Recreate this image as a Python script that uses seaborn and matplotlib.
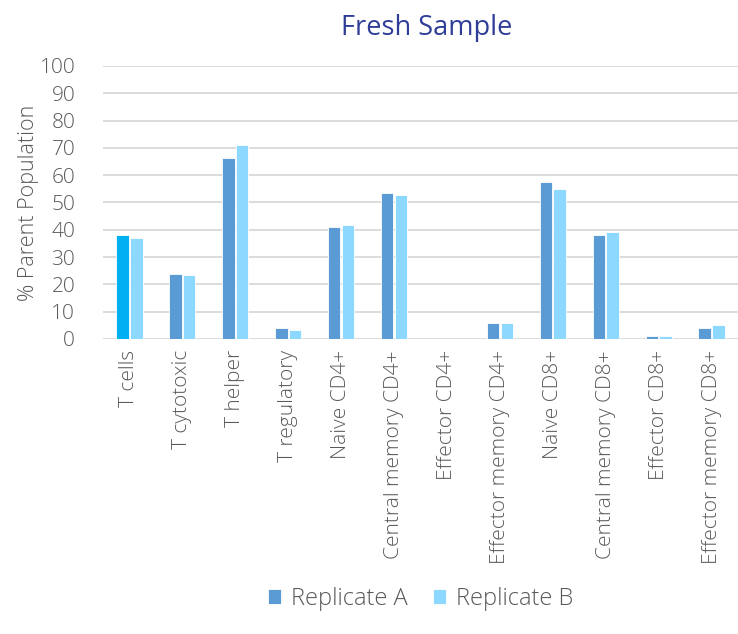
import matplotlib
matplotlib.use("Agg")
import matplotlib.pyplot as plt
import seaborn as sns
import pandas as pd

categories = ["T cells", "T cytotoxic", "T helper", "T regulatory", "Naive CD4+",
              "Central memory CD4+", "Effector CD4+", "Effector memory CD4+",
              "Naive CD8+", "Central memory CD8+", "Effector CD8+", "Effector memory CD8+"]
replicate_a = [38.2, 23.8, 66.2, 4.0, 41.2, 53.3, 0.0, 6.0, 57.6, 38.2, 1.0, 4.0]
replicate_b = [36.9, 23.5, 71.1, 3.2, 41.7, 52.8, 0.0, 6.0, 55.1, 39.1, 1.2, 5.1]
series_names = ["Replicate A", "Replicate B"]
y_ticks = [0, 10, 20, 30, 40, 50, 60, 70, 80, 90, 100]

df = pd.DataFrame({
    "Population": categories * 2,
    "Value": replicate_a + replicate_b,
    "Series": [series_names[0]] * len(categories) + [series_names[1]] * len(categories),
})

sns.set_theme(style="white")
plt.rcParams["font.family"] = ["Open Sans", "DejaVu Sans"]
plt.rcParams["font.weight"] = "light"

text_gray = "#595959"
col_a = "#5B9BD5"
col_b = "#8DD8FF"
col_highlight = "#00B0F0"

fig = plt.figure(figsize=(7.38, 6.34), dpi=100)
ax = fig.add_axes([0.1396, 0.4653, 0.8604, 0.4306])

sns.barplot(data=df, x="Population", y="Value", hue="Series",
            palette=[col_a, col_b], saturation=1, width=0.52, gap=0.1,
            edgecolor="white", linewidth=0.6, ax=ax, zorder=3)

# first bar of Replicate A is highlighted
ax.containers[0].patches[0].set_facecolor(col_highlight)

ax.set_ylim(0, 100)
ax.set_xlim(-0.5, len(categories) - 0.5)
ax.set_yticks(y_ticks)
ax.yaxis.grid(True, color="#D9D9D9", linewidth=1.3, zorder=0)
ax.set_axisbelow(True)
for s in ax.spines.values():
    s.set_visible(False)
ax.tick_params(axis="both", length=0, colors=text_gray, labelsize=15)
ax.tick_params(axis="y", pad=20)
ax.tick_params(axis="x", pad=8)
plt.setp(ax.get_xticklabels(), rotation=90, ha="center", va="top")
ax.set_xlabel("")
ax.set_ylabel("% Parent Population", color=text_gray, fontsize=15.5,
              labelpad=0, fontweight="light")
ax.set_title("Fresh Sample", color="#2E3D98", fontsize=19.5, pad=22, x=0.51)

leg = ax.legend(loc="upper center", bbox_to_anchor=(0.5, -0.83), ncol=2,
                frameon=False, fontsize=17, handlelength=0.55, handleheight=0.55,
                columnspacing=1.1, handletextpad=0.4)
for t in leg.get_texts():
    t.set_color(text_gray)

fig.savefig("out.png", dpi=100)
